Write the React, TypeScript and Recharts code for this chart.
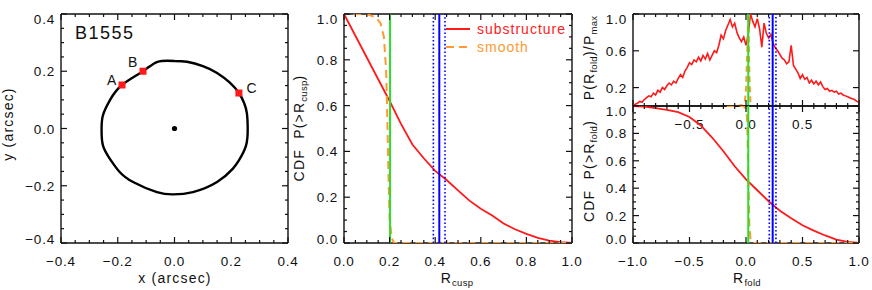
import React from "react";
import { ComposedChart, Line, Scatter, XAxis, YAxis, ReferenceLine, Legend } from "recharts";

const FONT = '"Liberation Sans", Arial, Helvetica, sans-serif';
const INK = "#111";
const RED = "#ff1a1a";
const ORANGE = "#ff9933";
const GREEN = "#2ade2a";
const BLUE = "#0000ff";

// ---- left panel: critical curve of B1555 with the three images ----
const causticX = [0.0, 0.044, 0.1, 0.15, 0.195, 0.227, 0.245, 0.255, 0.258, 0.252, 0.228, 0.206, 0.15, 0.065, -0.005, -0.062, -0.146, -0.195, -0.225, -0.252, -0.257, -0.252, -0.227, -0.185, -0.111, -0.06, 0.0];
const causticY = [0.236, 0.233, 0.218, 0.194, 0.16, 0.124, 0.09, 0.054, 0.0, -0.06, -0.11, -0.14, -0.187, -0.222, -0.23, -0.222, -0.187, -0.15, -0.11, -0.06, 0.0, 0.047, 0.1, 0.152, 0.2, 0.233, 0.236];
const imageNames = ["A", "B", "C"];
const imageX = [-0.185, -0.111, 0.227];
const imageY = [0.152, 0.2, 0.124];
const lensX = [0.0];
const lensY = [0.0];

// ---- middle panel: cusp relation ----
const cuspGridSub = [0, 0.05, 0.1, 0.15, 0.2, 0.25, 0.3, 0.35, 0.4, 0.45, 0.5, 0.55, 0.6, 0.65, 0.7, 0.75, 0.8, 0.85, 0.9, 0.95, 1.0];
const cuspCdfSub = [1.0, 0.905, 0.81, 0.715, 0.62, 0.52, 0.43, 0.37, 0.315, 0.275, 0.23, 0.185, 0.15, 0.12, 0.085, 0.06, 0.04, 0.022, 0.01, 0.004, 0.0];
const cuspGridSmooth = [0.04, 0.1, 0.14, 0.16, 0.175, 0.185, 0.19, 0.195, 0.2, 0.21, 0.22, 1.0];
const cuspCdfSmooth = [1.0, 1.0, 0.985, 0.96, 0.9, 0.75, 0.55, 0.3, 0.1, 0.02, 0.0, 0.0];
const cuspObserved = 0.202;
const cuspMedian = 0.418;
const cuspRange = [0.392, 0.443];

// ---- right panel: fold relation ----
const foldGrid = [
  -1.0, -0.98, -0.96, -0.94, -0.92, -0.9, -0.88, -0.86, -0.84, -0.82, -0.8, -0.78, -0.76, -0.74, -0.72, -0.7, -0.68,
  -0.66, -0.64, -0.62, -0.6, -0.58, -0.56, -0.54, -0.52, -0.5, -0.48, -0.46, -0.44, -0.42, -0.4, -0.38, -0.36, -0.34,
  -0.32, -0.3, -0.28, -0.26, -0.24, -0.22, -0.2, -0.18, -0.16, -0.14, -0.12, -0.1, -0.08, -0.06, -0.04, -0.02, 0.0,
  0.02, 0.04, 0.06, 0.08, 0.1, 0.12, 0.14, 0.16, 0.18, 0.2, 0.22, 0.24, 0.26, 0.28, 0.3, 0.32, 0.34, 0.36, 0.38, 0.4,
  0.42, 0.44, 0.46, 0.48, 0.5, 0.52, 0.54, 0.56, 0.58, 0.6, 0.62, 0.64, 0.66, 0.68, 0.7, 0.72, 0.74, 0.76, 0.78, 0.8,
  0.82, 0.84, 0.86, 0.88, 0.9, 0.92, 0.94, 0.96, 0.98, 1.0,
];
const foldPdfSub = [
  0.0, 0.02, 0.03, 0.05, 0.04, 0.07, 0.09, 0.11, 0.1, 0.14, 0.12, 0.17, 0.15, 0.2, 0.18, 0.22, 0.25,
  0.23, 0.27, 0.25, 0.3, 0.34, 0.31, 0.38, 0.42, 0.47, 0.45, 0.5, 0.48, 0.53, 0.49, 0.55, 0.51, 0.57,
  0.5, 0.55, 0.6, 0.58, 0.66, 0.77, 0.73, 0.82, 0.88, 0.94, 0.86, 0.9, 0.8, 0.74, 0.7, 0.75, 0.66,
  0.78, 1.0, 0.92, 0.86, 0.95, 0.84, 0.64, 0.9, 0.79, 0.74, 0.78, 0.68, 0.63, 0.6, 0.56, 0.52, 0.5, 0.46, 0.48, 0.66,
  0.44, 0.4, 0.36, 0.3, 0.34, 0.29, 0.31, 0.25, 0.28, 0.24, 0.27, 0.23, 0.26, 0.21, 0.18, 0.19, 0.16, 0.17, 0.15, 0.16,
  0.13, 0.14, 0.12, 0.11, 0.1, 0.09, 0.08, 0.07, 0.05, 0.04,
];
const foldGridSmooth = [-0.17, -0.08, -0.03, -0.01, 0.0, 0.01, 0.02, 0.03, 0.04];
const foldPdfSmooth = [0.0, 0.0, 0.01, 0.05, 0.18, 0.55, 1.0, 0.35, 0.0];
const foldCdfGrid = [-1.0, -0.9, -0.8, -0.7, -0.6, -0.5, -0.4, -0.3, -0.2, -0.1, 0.0, 0.1, 0.2, 0.3, 0.4, 0.5, 0.6, 0.7, 0.8, 0.9, 1.0];
const foldCdfSub = [1.0, 0.995, 0.985, 0.972, 0.955, 0.92, 0.858, 0.77, 0.67, 0.56, 0.465, 0.385, 0.305, 0.235, 0.18, 0.13, 0.09, 0.055, 0.025, 0.008, 0.0];
const foldCdfGridSmooth = [-0.17, -0.02, 0.0, 0.01, 0.02, 0.03, 0.04, 0.06, 1.0];
const foldCdfSmooth = [1.0, 1.0, 0.98, 0.9, 0.5, 0.12, 0.03, 0.0, 0.0];
const foldObserved = 0.02;
const foldMedian = 0.236;
const foldRange = [0.206, 0.265];

// tick positions
const p1Major = [-0.4, -0.2, 0, 0.2, 0.4];
const p1Minor = [-0.35, -0.3, -0.25, -0.15, -0.1, -0.05, 0.05, 0.1, 0.15, 0.25, 0.3, 0.35];
const unitMajor = [0, 0.2, 0.4, 0.6, 0.8, 1.0];
const unitMinor = [0.05, 0.1, 0.15, 0.25, 0.3, 0.35, 0.45, 0.5, 0.55, 0.65, 0.7, 0.75, 0.85, 0.9, 0.95];
const foldMajor = [-1, -0.5, 0, 0.5, 1];
const foldMinor = [-0.9, -0.8, -0.7, -0.6, -0.4, -0.3, -0.2, -0.1, 0.1, 0.2, 0.3, 0.4, 0.6, 0.7, 0.8, 0.9];
const pdfMajor = [0.2, 0.6, 1.0];
const legendOrder = ["substructure", "smooth"];

const zip = (xs: number[], ys: number[]) => xs.map((x, i) => ({ x, y: ys[i] }));

const TXT: React.CSSProperties = { fontFamily: FONT, fontSize: 13.5, letterSpacing: 0.8, fill: INK };
const fmt = (v: number) => (v < -1e-9 ? "\u2212" : "") + Math.abs(v).toFixed(1);
const isIn = (list: number[], v: number) => list.some((m) => Math.abs(m - v) < 1e-9);

type Side = "bottom" | "top" | "left" | "right";

// ticks point into the plot, labels sit outside
function inwardTick(side: Side, majors: number[], labelFor: ((v: number) => string | null) | null, domain: [number, number]) {
  return (props: any) => {
    const x = Number(props.x);
    const y = Number(props.y);
    const v = Number(props.payload?.value);
    const major = isIn(majors, v);
    const len = major ? 6 : 3;
    const dx = side === "left" ? len : side === "right" ? -len : 0;
    const dy = side === "bottom" ? -len : side === "top" ? len : 0;
    const txt = major && labelFor ? labelFor(v) : null;
    let label = null;
    if (txt !== null) {
      if (side === "bottom") {
        label = <text x={x} y={y + 23} textAnchor="middle" style={TXT}>{txt}</text>;
      } else if (side === "left") {
        let shift = 0;
        if (Math.abs(v - domain[1]) < 1e-9) shift = 5;
        else if (Math.abs(v - domain[0]) < 1e-9) shift = -4;
        label = <text x={x - 6} y={y + 5 + shift} textAnchor="end" style={TXT}>{txt}</text>;
      }
    }
    return (
      <g>
        <line x1={x} y1={y} x2={x + dx} y2={y + dy} stroke={INK} strokeWidth={1.2} />
        {label}
      </g>
    );
  };
}

interface FrameOpts {
  xDomain: [number, number];
  yDomain: [number, number];
  xMajor: number[];
  xMinor: number[];
  yMajor: number[];
  yMinor: number[];
  xLabel: ((v: number) => string | null) | null;
  yLabel: ((v: number) => string | null) | null;
}

const AXIS_LINE = { stroke: INK, strokeWidth: 1.4 };
// each frame axis takes 1px of room, so margins are the plot box minus 1
const AX_PX = 1;

function frameAxes(o: FrameOpts) {
  const xt = [...o.xMajor, ...o.xMinor];
  const yt = [...o.yMajor, ...o.yMinor];
  const common = { tickSize: 0, tickMargin: 0, tickLine: false, interval: 0 as const, allowDataOverflow: true, zIndex: 300 };
  return [
    <XAxis key="xb" xAxisId="b" orientation="bottom" type="number" dataKey="x" domain={o.xDomain} ticks={xt} height={AX_PX}
      axisLine={AXIS_LINE} tick={inwardTick("bottom", o.xMajor, o.xLabel, o.xDomain)} {...common} />,
    <XAxis key="xt" xAxisId="t" orientation="top" type="number" dataKey="x" domain={o.xDomain} ticks={xt} height={AX_PX}
      axisLine={AXIS_LINE} tick={inwardTick("top", o.xMajor, null, o.xDomain)} {...common} />,
    <YAxis key="yl" yAxisId="l" orientation="left" type="number" dataKey="y" domain={o.yDomain} ticks={yt} width={AX_PX}
      axisLine={AXIS_LINE} tick={inwardTick("left", o.yMajor, o.yLabel, o.yDomain)} {...common} />,
    <YAxis key="yr" yAxisId="r" orientation="right" type="number" dataKey="y" domain={o.yDomain} ticks={yt} width={AX_PX}
      axisLine={AXIS_LINE} tick={inwardTick("right", o.yMajor, null, o.yDomain)} {...common} />,
  ];
}

const W = 872;
const H = 290;
const layer: React.CSSProperties = { position: "absolute", left: 0, top: 0 };

// plot box (left, right, top, bottom) in pixels -> chart margin
const box = (l: number, r: number, t: number, b: number) => ({
  left: l - AX_PX, right: W - r - AX_PX, top: t - AX_PX, bottom: H - b - AX_PX,
});

const labelOffsets: [number, number][] = [[-10, 0], [-10, -4], [13, 0]];

const imageShape = (p: any) => {
  const i = imageNames.indexOf(p.payload?.name);
  const off = labelOffsets[i] ?? [0, 0];
  return (
    <g>
      <rect x={p.cx - 3.5} y={p.cy - 3.5} width={7} height={7} fill={RED} />
      <text x={p.cx + off[0]} y={p.cy + off[1]} textAnchor="middle" style={{ ...TXT, fontSize: 14 }}>
        {p.payload?.name}
      </text>
    </g>
  );
};

const lensShape = (p: any) => <circle cx={p.cx} cy={p.cy} r={2.6} fill="#000" />;

const legendContent = (props: any) => {
  const items = [...(props.payload || [])].sort(
    (a: any, b: any) => legendOrder.indexOf(a.value) - legendOrder.indexOf(b.value),
  );
  return (
    <div style={{ fontFamily: FONT, fontSize: 14, letterSpacing: 1 }}>
      {items.map((e: any) => (
        <div key={e.value} style={{ display: "flex", alignItems: "center", height: 18 }}>
          <svg width={25} height={6}>
            <line x1={0} y1={3} x2={24} y2={3} stroke={e.color} strokeWidth={2}
              strokeDasharray={e.payload?.strokeDasharray} />
          </svg>
          <span style={{ color: e.color, marginLeft: 6 }}>{e.value}</span>
        </div>
      ))}
    </div>
  );
};

const sub = (s: string) => (
  <span style={{ fontSize: 9.5, position: "relative", top: 3, letterSpacing: 0.3 }}>{s}</span>
);

const titleBase: React.CSSProperties = {
  position: "absolute",
  fontFamily: FONT,
  fontSize: 14,
  letterSpacing: 1.2,
  color: INK,
  whiteSpace: "nowrap",
  lineHeight: 1,
};
const hTitle = (cx: number, cy: number): React.CSSProperties => ({
  ...titleBase, left: cx, top: cy, transform: "translate(-50%, -50%)",
});
const vTitle = (cx: number, cy: number): React.CSSProperties => ({
  ...titleBase, left: cx, top: cy, transform: "translate(-50%, -50%) rotate(-90deg)",
});

const ON_TOP = 700;

export default function App() {
  const caustic = zip(causticX, causticY);
  const images = imageNames.map((name, i) => ({ name, x: imageX[i], y: imageY[i] }));
  const lens = zip(lensX, lensY);

  const cuspSub = zip(cuspGridSub, cuspCdfSub);
  const cuspSmooth = zip(cuspGridSmooth, cuspCdfSmooth);

  const pdfSub = zip(foldGrid, foldPdfSub);
  const pdfSmooth = zip(foldGridSmooth, foldPdfSmooth);
  const cdfSub = zip(foldCdfGrid, foldCdfSub);
  const cdfSmooth = zip(foldCdfGridSmooth, foldCdfSmooth);

  const ax = { xAxisId: "b", yAxisId: "l" };

  return (
    <div style={{ position: "absolute", left: 0, top: 0, width: W, height: H, background: "#fff", overflow: "hidden" }}>
      {/* left panel */}
      <div style={layer}>
        <ComposedChart width={W} height={H} margin={box(61, 288, 14, 243)}>
          {frameAxes({
            xDomain: [-0.4, 0.4], yDomain: [-0.4, 0.4],
            xMajor: p1Major, xMinor: p1Minor, yMajor: p1Major, yMinor: p1Minor,
            xLabel: fmt, yLabel: fmt,
          })}
          <Line {...ax} data={caustic} dataKey="y" type="natural" stroke="#000" strokeWidth={2.4} dot={false}
            isAnimationActive={false} legendType="none" />
          <Scatter {...ax} data={lens} shape={lensShape} isAnimationActive={false} legendType="none" />
          <Scatter {...ax} data={images} shape={imageShape} isAnimationActive={false} legendType="none" />
        </ComposedChart>
      </div>

      {/* middle panel */}
      <div style={layer}>
        <ComposedChart width={W} height={H} margin={box(344, 572, 14, 243)}>
          {frameAxes({
            xDomain: [0, 1], yDomain: [0, 1],
            xMajor: unitMajor, xMinor: unitMinor, yMajor: unitMajor, yMinor: unitMinor,
            xLabel: fmt, yLabel: fmt,
          })}
          <Line {...ax} data={cuspSub} dataKey="y" name="substructure" type="linear" stroke={RED} strokeWidth={1.8}
            dot={false} isAnimationActive={false} zIndex={ON_TOP} />
          <Line {...ax} data={cuspSmooth} dataKey="y" name="smooth" type="linear" stroke={ORANGE} strokeWidth={2}
            strokeDasharray="8 5" dot={false} isAnimationActive={false} zIndex={ON_TOP} />
          <ReferenceLine {...ax} x={cuspObserved} stroke={GREEN} strokeWidth={2} zIndex={ON_TOP + 10} />
          <ReferenceLine {...ax} x={cuspRange[0]} stroke={BLUE} strokeWidth={1.6} strokeDasharray="1.6 2.2" zIndex={ON_TOP + 10} />
          <ReferenceLine {...ax} x={cuspRange[1]} stroke={BLUE} strokeWidth={1.6} strokeDasharray="1.6 2.2" zIndex={ON_TOP + 10} />
          <ReferenceLine {...ax} x={cuspMedian} stroke={BLUE} strokeWidth={2} zIndex={ON_TOP + 10} />
          <Legend layout="vertical" align="center" verticalAlign="middle" content={legendContent}
            wrapperStyle={{ left: 446, top: 20, width: 130 }} />
        </ComposedChart>
      </div>

      {/* right panel, top: normalised PDF */}
      <div style={layer}>
        <ComposedChart width={W} height={H} margin={box(633, 859, 14, 106)}>
          {frameAxes({
            xDomain: [-1, 1], yDomain: [0, 1],
            xMajor: foldMajor, xMinor: foldMinor, yMajor: pdfMajor, yMinor: [],
            xLabel: (v) => (Math.abs(v) > 0.99 ? null : fmt(v)), yLabel: fmt,
          })}
          <Line {...ax} data={pdfSub} dataKey="y" type="linear" stroke={RED} strokeWidth={1.6} dot={false}
            isAnimationActive={false} legendType="none" zIndex={ON_TOP} />
          <Line {...ax} data={pdfSmooth} dataKey="y" type="linear" stroke={ORANGE} strokeWidth={2}
            strokeDasharray="6 4" dot={false} isAnimationActive={false} legendType="none" zIndex={ON_TOP} />
          <ReferenceLine {...ax} x={foldObserved} stroke={GREEN} strokeWidth={2} zIndex={ON_TOP + 10} />
          <ReferenceLine {...ax} x={foldRange[0]} stroke={BLUE} strokeWidth={1.6} strokeDasharray="1.6 2.2" zIndex={ON_TOP + 10} />
          <ReferenceLine {...ax} x={foldRange[1]} stroke={BLUE} strokeWidth={1.6} strokeDasharray="1.6 2.2" zIndex={ON_TOP + 10} />
          <ReferenceLine {...ax} x={foldMedian} stroke={BLUE} strokeWidth={2} zIndex={ON_TOP + 10} />
        </ComposedChart>
      </div>

      {/* right panel, bottom: CDF */}
      <div style={layer}>
        <ComposedChart width={W} height={H} margin={box(633, 859, 106, 243)}>
          {frameAxes({
            xDomain: [-1, 1], yDomain: [0, 1],
            xMajor: foldMajor, xMinor: foldMinor, yMajor: unitMajor, yMinor: unitMinor,
            xLabel: fmt, yLabel: fmt,
          })}
          <Line {...ax} data={cdfSub} dataKey="y" type="linear" stroke={RED} strokeWidth={1.8} dot={false}
            isAnimationActive={false} legendType="none" zIndex={ON_TOP} />
          <Line {...ax} data={cdfSmooth} dataKey="y" type="linear" stroke={ORANGE} strokeWidth={2}
            strokeDasharray="8 5" dot={false} isAnimationActive={false} legendType="none" zIndex={ON_TOP} />
          <ReferenceLine {...ax} x={foldObserved} stroke={GREEN} strokeWidth={2} zIndex={ON_TOP + 10} />
          <ReferenceLine {...ax} x={foldRange[0]} stroke={BLUE} strokeWidth={1.6} strokeDasharray="1.6 2.2" zIndex={ON_TOP + 10} />
          <ReferenceLine {...ax} x={foldRange[1]} stroke={BLUE} strokeWidth={1.6} strokeDasharray="1.6 2.2" zIndex={ON_TOP + 10} />
          <ReferenceLine {...ax} x={foldMedian} stroke={BLUE} strokeWidth={2} zIndex={ON_TOP + 10} />
        </ComposedChart>
      </div>

      {/* titles */}
      <div style={{ ...titleBase, left: 75, top: 24, fontSize: 18, letterSpacing: 1.5, lineHeight: "18px" }}>B1555</div>
      <div style={hTitle(175, 278)}>x (arcsec)</div>
      <div style={vTitle(8, 124)}>y (arcsec)</div>
      <div style={hTitle(457, 278)}>R{sub("cusp")}</div>
      <div style={vTitle(299, 128)}>CDF&nbsp;&nbsp;P(&gt;R{sub("cusp")})</div>
      <div style={hTitle(747, 278)}>R{sub("fold")}</div>
      <div style={vTitle(589, 58)}>P(R{sub("fold")})/P{sub("max")}</div>
      <div style={vTitle(589, 171)}>CDF&nbsp;&nbsp;P(&gt;R{sub("fold")})</div>
    </div>
  );
}
